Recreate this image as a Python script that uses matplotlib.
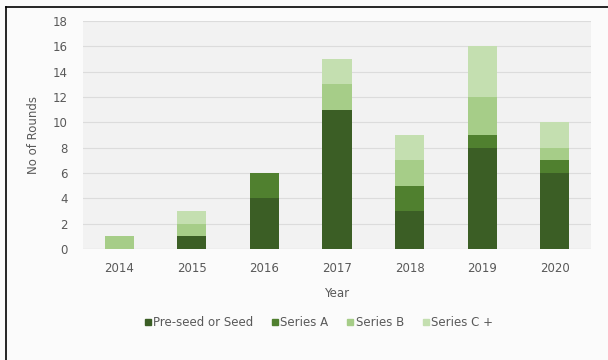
import numpy as np
import matplotlib
matplotlib.use("Agg")
import matplotlib.pyplot as plt
from matplotlib.lines import Line2D

years = ["2014", "2015", "2016", "2017", "2018", "2019", "2020"]
seed = [0, 1, 4, 11, 3, 8, 6]
series_a = [0, 0, 2, 0, 2, 1, 1]
series_b = [1, 1, 0, 2, 2, 3, 1]
series_c = [0, 1, 0, 2, 2, 4, 2]
labels = ["Pre-seed or Seed", "Series A", "Series B", "Series C +"]
colors = ["#3b5e25", "#50802f", "#a6cd88", "#c4dfb0"]

plt.rcParams['font.family'] = 'DejaVu Sans'
fig = plt.figure(figsize=(6.08, 3.6), dpi=100, facecolor="#fbfbfb")
ax = fig.add_axes([83/608, 1 - 249/360, 508/608, 228/360])
ax.set_facecolor("#f2f2f2")

x = np.arange(len(years))
bottom = np.zeros(len(years))
for vals, lab, col in zip([seed, series_a, series_b, series_c], labels, colors):
    ax.bar(x, vals, 0.4, bottom=bottom, color=col, label=lab, zorder=3)
    bottom += np.array(vals)

ax.set_xlim(-0.5, 6.5)
ax.set_ylim(0, 18)
ax.set_yticks(range(0, 19, 2))
ax.set_xticks(x)
ax.set_xticklabels(years)
ax.grid(axis="y", color="#dcdcdc", linewidth=0.8, zorder=0)
for s in ax.spines.values():
    s.set_visible(False)
ax.axhline(0, color="#d0d0d0", linewidth=0.8, zorder=2)
ax.tick_params(length=0, labelsize=8.5, colors="#595959", pad=9)
ax.tick_params(axis="y", pad=11)
ax.set_xlabel("Year", fontsize=8.5, color="#595959", labelpad=9)
ax.set_ylabel("No of Rounds", fontsize=8.5, color="#595959", labelpad=9)

handles = [Line2D([], [], marker="s", linestyle="", color=c, markersize=4.5) for c in colors]
fig.legend(handles, labels, loc="center", bbox_to_anchor=(319/608, 1 - 323/360), ncol=4,
           frameon=False, fontsize=8.5, labelcolor="#595959", handletextpad=0.2,
           columnspacing=1.6, handlelength=0.5)

# outer frame lines
fig.add_artist(Line2D([6/608, 6/608], [0, 1 - 7/360], color="black", linewidth=1.2))
fig.add_artist(Line2D([6/608, 1], [1 - 7/360, 1 - 7/360], color="black", linewidth=1.2))

fig.savefig("out.png", dpi=100, facecolor=fig.get_facecolor())
